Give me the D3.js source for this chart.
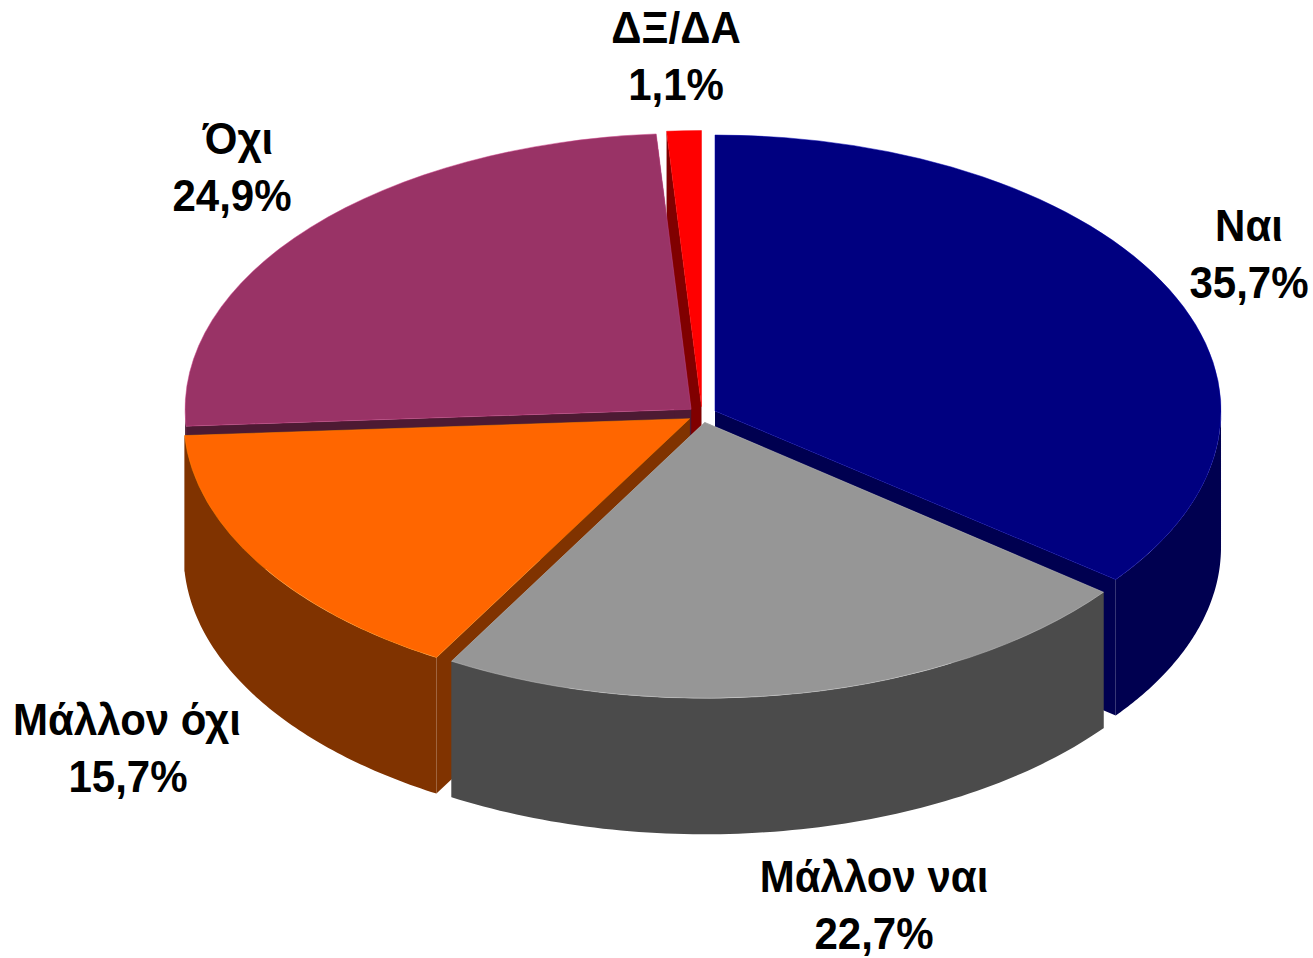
<!DOCTYPE html>
<html>
<head>
<meta charset="utf-8">
<script src="https://cdn.jsdelivr.net/npm/d3@7"></script>
<style>
  html, body { margin: 0; background: #fff; }
  text { font-family: "Liberation Sans", Arial, sans-serif; font-weight: bold; font-size: 44px; fill: #000; text-anchor: middle; }
</style>
</head>
<body>
<svg id="chart" width="1313" height="958"></svg>
<script>
const categories = ['Ναι', 'Μάλλον ναι', 'Μάλλον όχι', 'Όχι', 'ΔΞ/ΔΑ'];
const values = [35.7, 22.7, 15.7, 24.9, 1.1];
const valueLabels = ['35,7%', '22,7%', '15,7%', '24,9%', '1,1%'];
const topColors = ['#000080', '#969696', '#ff6600', '#993366', '#ff0000'];
const wallColors = ['#000050', '#4b4b4b', '#803300', '#4d1a33', '#800000'];

// label anchors, one per category
const nameX = [1249, 874, 127, 238, 676];
const valueX = [1249, 874, 128, 232, 676];
const nameY = [241, 892, 735, 154, 43];
const lineGap = 57;
const textSquash = 0.955;

// pie geometry
const cx = 702, cy = 414.5;
const rx = 506, ry = 276;
const depth = 136;
const explode = 14.5;
const squash = ry / rx;

const svg = d3.select('#chart');

// the original's perspective pulls the right-hand half of the rim forward a little
function warp(a, k) {
    return a < Math.PI ? a + k * Math.sin(2 * a) : a;
}

const arcs = d3.pie().sort(null).value(d => d)(values).map(d => ({
    startAngle: warp(d.startAngle, 0.007),
    endAngle: warp(d.endAngle, 0.0135)
}));

const topArc = d3.arc().innerRadius(0).outerRadius(rx);
const line = d3.line();

function apex(d) {
    const mid = (d.startAngle + d.endAngle) / 2;
    return [cx + explode * Math.sin(mid), cy - explode * Math.cos(mid) * squash];
}

function rim(c, a, dy = 0) {
    return [c[0] + rx * Math.sin(a), c[1] - ry * Math.cos(a) + dy];
}

function cutWall(c, a) {
    return line([c, rim(c, a), rim(c, a, depth), [c[0], c[1] + depth]]) + 'Z';
}

function outerWall(d, c) {
    const a0 = Math.max(d.startAngle, Math.PI / 2);
    const a1 = Math.min(d.endAngle, Math.PI * 1.5);
    if (a1 <= a0) return null;
    const steps = d3.range(0, 81).map(i => a0 + (a1 - a0) * i / 80);
    const upper = steps.map(a => rim(c, a));
    const lower = steps.slice().reverse().map(a => rim(c, a, depth));
    return line(upper.concat(lower)) + 'Z';
}

// back to front: ΔΞ/ΔΑ, Όχι, Ναι, Μάλλον όχι, Μάλλον ναι
const drawOrder = [4, 3, 0, 2, 1];

drawOrder.forEach(i => {
    const d = arcs[i];
    const c = apex(d);
    const g = svg.append('g').attr('class', 'slice');

    g.append('path').attr('d', cutWall(c, d.startAngle)).attr('fill', wallColors[i]);
    g.append('path').attr('d', cutWall(c, d.endAngle)).attr('fill', wallColors[i]);

    const wall = outerWall(d, c);
    if (wall) g.append('path').attr('d', wall).attr('fill', wallColors[i]);

    g.append('path')
        .attr('d', topArc(d))
        .attr('transform', `translate(${c[0]},${c[1]}) scale(1,${squash})`)
        .attr('fill', topColors[i])
        .attr('stroke', d3.color(topColors[i]).brighter(0.8))
        .attr('stroke-opacity', 0.5)
        .attr('stroke-width', 1)
        .attr('vector-effect', 'non-scaling-stroke');
});

function label(x, y, str) {
    svg.append('text')
        .attr('transform', `translate(${x},${y}) scale(${textSquash},1)`)
        .text(str);
}

categories.forEach((name, i) => {
    label(nameX[i], nameY[i], name);
    label(valueX[i], nameY[i] + lineGap, valueLabels[i]);
});
</script>
</body>
</html>
